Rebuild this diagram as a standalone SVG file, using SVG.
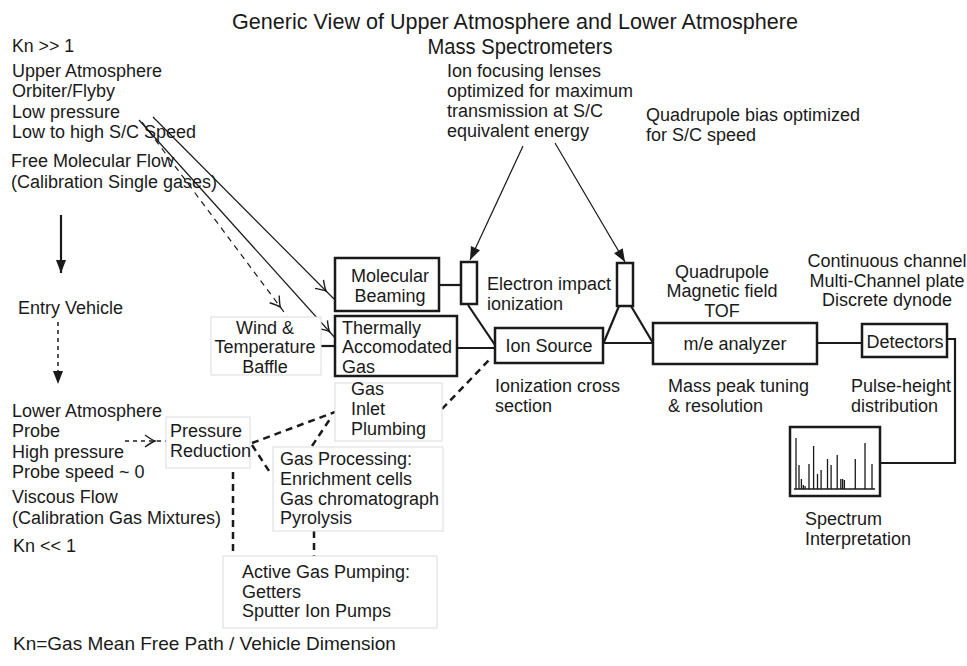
<svg xmlns="http://www.w3.org/2000/svg" width="967" height="666" viewBox="0 0 967 666">
  <defs>
    <style>
      text { font-family: "Liberation Sans", Arial, Helvetica, sans-serif; font-size: 18px; fill: #1a1a1a; }
      .narrow { font-family: "Liberation Sans Narrow", "Liberation Sans", Arial, sans-serif; }
      .title { font-size: 22px; }
      .kn { font-size: 18px; }
      .foot { font-size: 19px; }
      .mid { text-anchor: middle; }
      .box { fill: #fff; stroke: #1a1a1a; stroke-width: 2.5; }
      .soft { fill: #fff; stroke: #dcdcdc; stroke-width: 1; }
      .wire { fill: none; stroke: #1a1a1a; stroke-width: 2.2; }
      .thin { fill: none; stroke: #1a1a1a; stroke-width: 1.2; }
      .dash { fill: none; stroke: #1a1a1a; stroke-width: 2.5; stroke-dasharray: 7 5; }
      .dot { fill: none; stroke: #1a1a1a; stroke-width: 1.5; stroke-dasharray: 4 4; }
      .peak { stroke: #1a1a1a; stroke-width: 1.3; }
    </style>
    <!-- open feathered arrowhead, set back from the line end -->
    <marker id="feather" markerUnits="userSpaceOnUse" viewBox="-12 -7 26 14" markerWidth="26" markerHeight="14" refX="11" refY="0" orient="auto" overflow="visible">
      <path d="M -10,-6 Q -3,-1 0,0 Q -3,1 -10,6" fill="none" stroke="#1a1a1a" stroke-width="1.4"/>
    </marker>
    <!-- solid triangular arrowhead -->
    <marker id="solid" markerUnits="userSpaceOnUse" viewBox="-13 -6 14 12" markerWidth="14" markerHeight="12" refX="0" refY="0" orient="auto" overflow="visible">
      <path d="M -13,-5 L 0,0 L -13,5 Z" fill="#1a1a1a"/>
    </marker>
  </defs>

  <rect width="967" height="666" fill="#fff"/>

  <!-- heading -->
  <text class="narrow title mid" x="515" y="29" textLength="566" lengthAdjust="spacingAndGlyphs">Generic View of Upper Atmosphere and Lower Atmosphere</text>
  <text class="narrow title mid" x="520" y="54" textLength="185" lengthAdjust="spacingAndGlyphs">Mass Spectrometers</text>
  <text class="narrow kn" x="12" y="52" textLength="62" lengthAdjust="spacingAndGlyphs">Kn &gt;&gt; 1</text>

  <!-- upper atmosphere notes -->
  <g id="upper-notes">
    <text x="12" y="77">Upper Atmosphere</text>
    <text x="12" y="97">Orbiter/Flyby</text>
    <text x="12" y="118">Low pressure</text>
    <text x="12" y="138">Low to high S/C Speed</text>
    <text x="11" y="167">Free Molecular Flow</text>
    <text x="11" y="188">(Calibration Single gases)</text>
  </g>
  <text id="entry-vehicle" x="18" y="314">Entry Vehicle</text>

  <!-- lower atmosphere notes -->
  <g id="lower-notes">
    <text x="12" y="417">Lower Atmosphere</text>
    <text x="12" y="437">Probe</text>
    <text x="12" y="458">High pressure</text>
    <text x="12" y="478">Probe speed ~ 0</text>
    <text x="12" y="503">Viscous Flow</text>
    <text x="12" y="524">(Calibration Gas Mixtures)</text>
    <text x="13" y="552">Kn &lt;&lt; 1</text>
  </g>

  <!-- annotations -->
  <g id="lens-note">
    <text x="447" y="77">Ion focusing lenses</text>
    <text x="447" y="97">optimized for maximum</text>
    <text x="447" y="117">transmission at S/C</text>
    <text x="447" y="137">equivalent energy</text>
  </g>
  <g id="bias-note">
    <text x="646" y="121">Quadrupole bias optimized</text>
    <text x="646" y="141">for S/C speed</text>
  </g>
  <g id="analyzer-types">
    <text class="mid" x="722" y="278">Quadrupole</text>
    <text class="mid" x="722" y="297">Magnetic field</text>
    <text class="mid" x="722" y="317">TOF</text>
  </g>
  <g id="detector-types">
    <text class="mid" x="887" y="267">Continuous channel</text>
    <text class="mid" x="887" y="287">Multi-Channel plate</text>
    <text class="mid" x="887" y="306">Discrete dynode</text>
  </g>
  <g id="ionization-note">
    <text x="495" y="392">Ionization cross</text>
    <text x="495" y="412">section</text>
  </g>
  <g id="tuning-note">
    <text x="668" y="392">Mass peak tuning</text>
    <text x="668" y="412">&amp; resolution</text>
  </g>
  <g id="pulse-note">
    <text x="851" y="392">Pulse-height</text>
    <text x="851" y="412">distribution</text>
  </g>
  <g id="spectrum-note">
    <text x="805" y="525">Spectrum</text>
    <text x="805" y="545">Interpretation</text>
  </g>
  <text class="foot" x="13" y="650">Kn=Gas Mean Free Path / Vehicle Dimension</text>

  <!-- connectors -->
  <g id="connectors">
    <line class="thin" x1="153" y1="117" x2="334" y2="299" marker-end="url(#feather)"/>
    <line class="thin" x1="139" y1="120" x2="337" y2="340" stroke-width="1.5" marker-end="url(#feather)"/>
    <line class="thin" x1="142" y1="122" x2="287" y2="316" stroke-dasharray="6 5" stroke-width="1.3" marker-end="url(#feather)"/>
    <line class="wire" x1="61" y1="215" x2="61" y2="273" stroke-width="1.5" marker-end="url(#solid)"/>
    <line class="dot" x1="58" y1="322" x2="58" y2="384" marker-end="url(#solid)"/>
    <line class="dot" x1="125" y1="441" x2="166" y2="441" marker-end="url(#feather)"/>
    <line class="thin" x1="523" y1="146" x2="470" y2="260" stroke-width="1.4" marker-end="url(#solid)"/>
    <line class="thin" x1="555" y1="143" x2="625" y2="262" stroke-width="1.4" marker-end="url(#solid)"/>
    <line class="wire" x1="439" y1="285" x2="461" y2="285"/>
    <line class="wire" x1="321" y1="346" x2="335" y2="346" stroke-width="3"/>
    <line class="wire" x1="457" y1="348" x2="495" y2="348"/>
    <line class="wire" x1="468" y1="305" x2="495" y2="345" stroke-width="2.5"/>
    <line class="wire" x1="619" y1="306" x2="604" y2="342"/>
    <line class="wire" x1="631" y1="306" x2="653" y2="343"/>
    <line class="wire" x1="603" y1="343" x2="653" y2="343" stroke="#666"/>
    <line class="wire" x1="817" y1="343" x2="862" y2="343" stroke-width="2.5"/>
    <polyline class="wire" points="947,339 955,339 955,463 880,463" stroke-width="2.5"/>
    <line class="dash" x1="442" y1="409" x2="491" y2="358"/>
    <line class="dash" x1="252" y1="443" x2="335" y2="412"/>
    <line class="dash" x1="312" y1="446" x2="332" y2="416"/>
    <line class="dash" x1="252" y1="445" x2="271" y2="474"/>
    <line class="dash" x1="233" y1="472" x2="233" y2="553" stroke-dasharray="10 5"/>
    <line class="dash" x1="314" y1="531" x2="314" y2="556" stroke-dasharray="8 4"/>
  </g>

  <!-- nodes -->
  <g id="molecular-beaming">
    <rect class="box" x="335" y="258" width="104" height="53"/>
    <text class="mid" x="390" y="282">Molecular</text>
    <text class="mid" x="390" y="302">Beaming</text>
  </g>
  <g id="thermally-accommodated">
    <rect class="box" x="335" y="316" width="122" height="60"/>
    <text x="342" y="334">Thermally</text>
    <text x="342" y="353">Accomodated</text>
    <text x="342" y="373">Gas</text>
  </g>
  <g id="wind-baffle">
    <rect class="soft" x="211" y="317" width="110" height="58"/>
    <text class="mid" x="265" y="334">Wind &amp;</text>
    <text class="mid" x="265" y="353">Temperature</text>
    <text class="mid" x="265" y="373">Baffle</text>
  </g>
  <g id="gas-inlet">
    <rect class="soft" x="335" y="383" width="107" height="58"/>
    <text x="351" y="395">Gas</text>
    <text x="351" y="415">Inlet</text>
    <text x="351" y="435">Plumbing</text>
  </g>
  <g id="electron-impact">
    <rect class="box" x="461" y="262" width="16" height="42" stroke-width="2.2"/>
    <text x="487" y="290">Electron impact</text>
    <text x="487" y="310">ionization</text>
  </g>
  <g id="quadrupole-bias">
    <rect class="box" x="617" y="263" width="16" height="43" stroke-width="2.2"/>
  </g>
  <g id="ion-source">
    <rect class="box" x="495" y="328" width="108" height="35"/>
    <text class="mid" x="549" y="352">Ion Source</text>
  </g>
  <g id="analyzer">
    <rect class="box" x="653" y="323" width="164" height="41"/>
    <text class="mid" x="735" y="350">m/e analyzer</text>
  </g>
  <g id="detectors">
    <rect class="box" x="862" y="324" width="85" height="33"/>
    <text class="mid" x="905" y="348">Detectors</text>
  </g>
  <g id="spectrum">
    <rect class="box" x="790" y="427" width="90" height="69"/>
    <line class="peak" x1="794" y1="489" x2="875" y2="489"/>
    <path class="peak" fill="none" d="M796,489V438 M799,489V465 M801.4,489V479 M803.3,489V485 M805.1,489V486 M809,489V464 M813.6,489V446 M817.5,489V474 M821.1,489V470 M827.5,489V459 M831.1,489V465 M837.2,489V455 M840.8,489V479 M842.6,489V479 M844.4,489V480 M855.3,489V459 M865,489V443 M872,489V464"/>
  </g>
  <g id="pressure-reduction">
    <rect class="soft" x="166" y="417" width="84" height="51"/>
    <text x="170" y="437">Pressure</text>
    <text x="170" y="457">Reduction</text>
  </g>
  <g id="gas-processing">
    <rect class="soft" x="273" y="447" width="170" height="84"/>
    <text x="280" y="465">Gas Processing:</text>
    <text x="280" y="485">Enrichment cells</text>
    <text x="280" y="505">Gas chromatograph</text>
    <text x="280" y="524">Pyrolysis</text>
  </g>
  <g id="gas-pumping">
    <rect class="soft" x="223" y="556" width="214" height="72"/>
    <text x="242" y="578">Active Gas Pumping:</text>
    <text x="242" y="598">Getters</text>
    <text x="242" y="617">Sputter Ion Pumps</text>
  </g>
</svg>
